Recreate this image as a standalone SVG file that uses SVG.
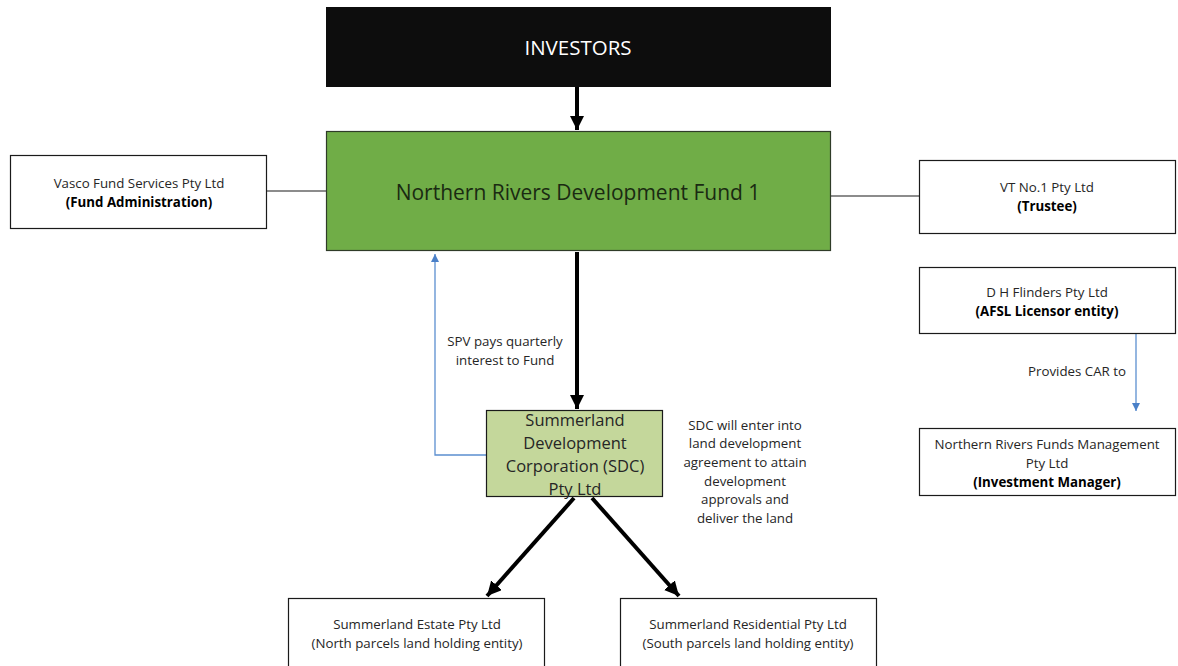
<svg xmlns="http://www.w3.org/2000/svg" width="1178" height="666" viewBox="0 0 1178 666">
<defs>
<style>
.box{fill:#fff;stroke:#1a1a1a;stroke-width:1.2}
.t{font-family:"Open Sans","Liberation Sans",sans-serif;font-size:13.3px;fill:#262626;text-anchor:middle}
.b{font-weight:bold;fill:#000}
.thick{stroke:#000;stroke-width:4;fill:none}
.thin{stroke:#1a1a1a;stroke-width:1.2;fill:none}
.blue{stroke:#5b8fd0;stroke-width:1.3;fill:none}
</style>
<marker id="ah" viewBox="0 0 10 10" refX="10" refY="5" markerWidth="3.6" markerHeight="3.6" markerUnits="strokeWidth" orient="auto"><path d="M0,0 L10,5 L0,10 z" fill="#000"/></marker>
<marker id="ahb" viewBox="0 0 10 10" refX="10" refY="5" markerWidth="8" markerHeight="8" markerUnits="userSpaceOnUse" orient="auto"><path d="M0,0 L10,5 L0,10 z" fill="#4a80c8"/></marker>
</defs>
<rect width="1178" height="666" fill="#fff"/>
<g id="connectors">
<line class="thick" x1="577" y1="87" x2="577" y2="130" marker-end="url(#ah)"/>
<line class="thin" x1="267" y1="191" x2="326" y2="191"/>
<line class="thin" x1="831" y1="196" x2="919" y2="196"/>
<line class="thick" x1="577" y1="252" x2="577" y2="409" marker-end="url(#ah)"/>
<polyline class="blue" points="486,455 435,455 435,254" marker-end="url(#ahb)"/>
<line class="blue" x1="1136" y1="334" x2="1136" y2="411" marker-end="url(#ahb)"/>
<line class="thick" x1="574" y1="498" x2="487" y2="596" marker-end="url(#ah)"/>
<line class="thick" x1="592" y1="498" x2="679" y2="596" marker-end="url(#ah)"/>
<text class="t" x="505" y="346">SPV pays quarterly</text>
<text class="t" x="505" y="365">interest to Fund</text>
<text class="t" x="1077" y="376">Provides CAR to</text>
<text class="t" x="745" y="430">SDC will enter into</text>
<text class="t" x="745" y="448">land development</text>
<text class="t" x="745" y="467">agreement to attain</text>
<text class="t" x="745" y="486">development</text>
<text class="t" x="745" y="504">approvals and</text>
<text class="t" x="745" y="523">deliver the land</text>
</g>
<g id="investors">
<rect x="326" y="7" width="505" height="80" fill="#0d0d0d"/>
<text x="578" y="55" style="font-family:'Open Sans','Liberation Sans',sans-serif;font-size:20.5px;fill:#fff;text-anchor:middle">INVESTORS</text>
</g>
<g id="fund">
<rect x="326.5" y="131.5" width="504" height="119" fill="#70ad47" stroke="#2f3b28" stroke-width="1.2"/>
<text x="578" y="200" style="font-family:'Open Sans','Liberation Sans',sans-serif;font-size:21px;fill:#1a2a12;text-anchor:middle">Northern Rivers Development Fund 1</text>
</g>
<g id="vasco">
<rect class="box" x="10.5" y="155.5" width="256" height="73"/>
<text class="t" x="139" y="188">Vasco Fund Services Pty Ltd</text>
<text class="t b" x="139" y="207">(Fund Administration)</text>
</g>
<g id="vt">
<rect class="box" x="919.5" y="160.5" width="256" height="73"/>
<text class="t" x="1047" y="192">VT No.1 Pty Ltd</text>
<text class="t b" x="1047" y="211">(Trustee)</text>
</g>
<g id="dhflinders">
<rect class="box" x="919.5" y="267.5" width="256" height="66"/>
<text class="t" x="1047" y="297">D H Flinders Pty Ltd</text>
<text class="t b" x="1047" y="316">(AFSL Licensor entity)</text>
</g>
<g id="nrfm">
<rect class="box" x="919.5" y="428.5" width="256" height="67"/>
<text class="t" x="1047" y="449">Northern Rivers Funds Management</text>
<text class="t" x="1047" y="468">Pty Ltd</text>
<text class="t b" x="1047" y="487">(Investment Manager)</text>
</g>
<g id="sdc">
<rect x="486.5" y="410.5" width="176" height="86" fill="#c4d79b" stroke="#1a1a1a" stroke-width="1.2"/>
<g style="font-family:'Open Sans','Liberation Sans',sans-serif;font-size:16.5px;fill:#262626;text-anchor:middle">
<text x="575" y="426">Summerland</text>
<text x="575" y="449">Development</text>
<text x="575" y="472">Corporation (SDC)</text>
<text x="575" y="495">Pty Ltd</text>
</g>
</g>
<g id="estate">
<rect class="box" x="288.5" y="598.5" width="256" height="80"/>
<text class="t" x="417" y="629">Summerland Estate Pty Ltd</text>
<text class="t" x="417" y="648">(North parcels land holding entity)</text>
</g>
<g id="residential">
<rect class="box" x="620.5" y="598.5" width="256" height="80"/>
<text class="t" x="748" y="629">Summerland Residential Pty Ltd</text>
<text class="t" x="748" y="648">(South parcels land holding entity)</text>
</g>
</svg>
